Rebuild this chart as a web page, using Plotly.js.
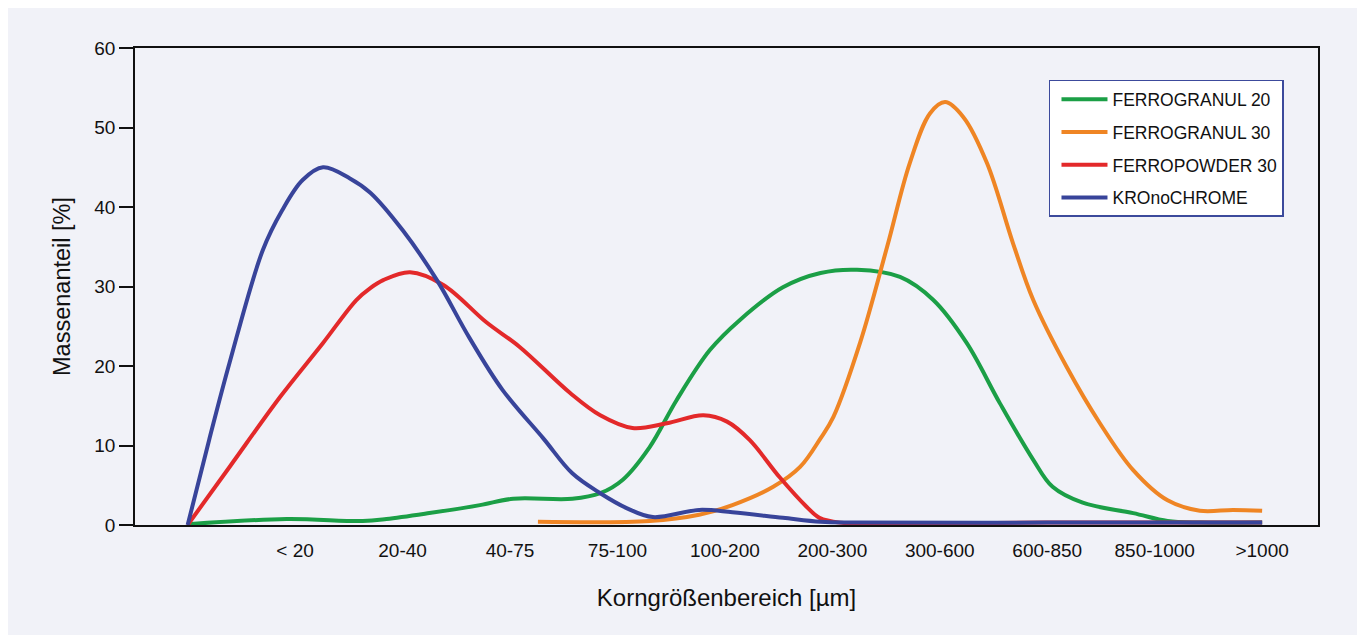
<!DOCTYPE html>
<html>
<head>
<meta charset="utf-8">
<script src="https://cdn.plot.ly/plotly-3.0.1.min.js"></script>
<style>
  html, body { margin: 0; padding: 0; background: #ffffff; overflow: hidden; }
  #chart { position: absolute; left: 8px; top: 8px; width: 1349px; height: 627px; }
</style>
</head>
<body>
<div id="chart"></div>
<script>
// Category tick labels (index 0 is the unlabeled start point)
const tickPositions = [1, 2, 3, 4, 5, 6, 7, 8, 9, 10];
const tickLabels = ["< 20", "20-40", "40-75", "75-100", "100-200", "200-300", "300-600", "600-850", "850-1000", ">1000"];

// FERROGRANUL 20 (green)
const g20X = [0.00, 0.92, 1.63, 1.85, 2.25, 2.72, 3.03, 3.58, 3.84, 4.05, 4.30, 4.55, 4.86, 5.14, 5.54, 5.89, 6.23, 6.63, 6.94, 7.25, 7.56, 7.87, 8.05, 8.33, 8.80, 9.12, 9.42, 10.00];
const g20Y = [0.1, 0.75, 0.5, 0.75, 1.5, 2.5, 3.3, 3.3, 4.0, 5.7, 9.8, 15.7, 22.0, 25.8, 29.9, 31.7, 32.1, 31.2, 28.3, 22.9, 15.3, 8.2, 4.8, 2.8, 1.5, 0.5, 0.3, 0.3];

// FERROGRANUL 30 (orange)
const g30X = [3.26, 4.30, 4.76, 5.07, 5.45, 5.70, 5.89, 6.01, 6.26, 6.51, 6.72, 6.91, 7.05, 7.22, 7.44, 7.68, 7.87, 8.18, 8.49, 8.80, 9.12, 9.42, 9.73, 10.00];
const g30Y = [0.4, 0.5, 1.3, 2.5, 4.8, 7.3, 10.9, 13.6, 23.0, 35.0, 45.5, 51.8, 53.2, 51.3, 45.5, 35.5, 28.3, 19.9, 12.8, 6.9, 3.1, 1.8, 1.9, 1.8];

// FERROPOWDER 30 (red)
const p30X = [0.00, 0.39, 0.86, 1.26, 1.57, 1.70, 1.82, 2.07, 2.38, 2.78, 3.09, 3.56, 3.84, 4.14, 4.46, 4.80, 5.02, 5.23, 5.51, 5.76, 5.88, 6.07, 8.00, 10.00];
const p30Y = [0.0, 7.3, 16.1, 22.9, 28.3, 29.8, 30.8, 31.8, 30.2, 25.5, 22.4, 16.6, 13.8, 12.2, 12.8, 13.8, 13.0, 10.7, 6.0, 2.3, 0.9, 0.3, 0.3, 0.3];

// KROnoCHROME (blue)
const kcX = [0.00, 0.20, 0.39, 0.70, 0.88, 1.07, 1.26, 1.51, 1.70, 2.00, 2.32, 2.62, 2.93, 3.31, 3.58, 3.84, 4.09, 4.33, 4.76, 5.07, 5.54, 5.89, 6.20, 8.00, 10.00];
const kcY = [0.0, 10.7, 20.4, 34.6, 39.6, 43.4, 45.0, 43.6, 41.8, 37.1, 30.8, 23.6, 17.0, 10.9, 6.5, 4.0, 2.1, 1.0, 1.9, 1.6, 0.9, 0.4, 0.3, 0.3, 0.3];

const seriesNames = ["FERROGRANUL 20", "FERROGRANUL 30", "FERROPOWDER 30", "KROnoCHROME"];
const seriesColors = ["#1b9f46", "#ef8524", "#e3292a", "#38449a"];
const seriesX = [g20X, g30X, p30X, kcX];
const seriesY = [g20Y, g30Y, p30Y, kcY];

const FONT = "'Liberation Sans', Arial, Helvetica, sans-serif";

const traces = seriesNames.map((name, i) => ({
  type: "scatter",
  mode: "lines",
  name: name,
  legendgroup: "g" + i,
  x: seriesX[i],
  y: seriesY[i],
  line: { color: seriesColors[i], width: 4, shape: "spline", smoothing: 1 },
  hoverinfo: "x+y+name"
}));

const layout = {
  width: 1349,
  height: 627,
  paper_bgcolor: "#f1f2f8",
  plot_bgcolor: "#f1f2f8",
  margin: { l: 127, r: 39, t: 40, b: 110 },
  font: { family: FONT, color: "#111111" },
  showlegend: true,
  legend: {
    x: 0.7726, y: 0.933, xanchor: "left", yanchor: "top",
    bgcolor: "#ffffff", bordercolor: "#3c4a9c", borderwidth: 1.5,
    font: { family: FONT, size: 17.5, color: "#111111" },
    tracegroupgap: 7,
    itemwidth: 46,
    indentation: 6
  },
  xaxis: {
    range: [-0.49, 10.52],
    tickmode: "array",
    tickvals: tickPositions,
    ticktext: tickLabels,
    ticks: "outside",
    ticklen: 7,
    tickcolor: "rgba(0,0,0,0)",
    tickfont: { family: FONT, size: 19, color: "#111111" },
    showgrid: false,
    zeroline: false,
    showline: true,
    mirror: true,
    linecolor: "#111111",
    linewidth: 1.5,
    title: { text: "Korngrößenbereich [µm]", font: { family: FONT, size: 24, color: "#111111" }, standoff: 30 }
  },
  yaxis: {
    range: [0, 60],
    tickmode: "array",
    tickvals: [0, 10, 20, 30, 40, 50, 60],
    ticks: "outside",
    ticklen: 14,
    tickwidth: 1.5,
    tickcolor: "#111111",
    tickfont: { family: FONT, size: 19, color: "#111111" },
    showgrid: false,
    zeroline: false,
    showline: true,
    mirror: true,
    linecolor: "#111111",
    linewidth: 1.5,
    title: { text: "Massenanteil [%]", font: { family: FONT, size: 23.5, color: "#111111" }, standoff: 17 }
  }
};

Plotly.newPlot("chart", traces, layout, { displayModeBar: false });
</script>
</body>
</html>
